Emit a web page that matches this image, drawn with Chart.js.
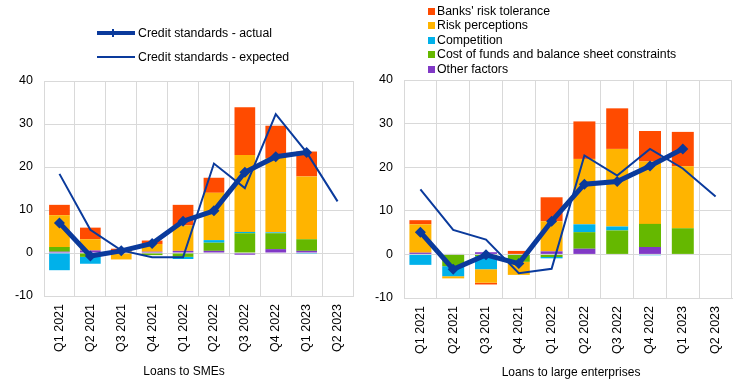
<!DOCTYPE html>
<html>
<head>
<meta charset="utf-8">
<script src="https://cdn.jsdelivr.net/npm/chart.js@4.4.1/dist/chart.umd.min.js"></script>
<style>
  html, body { margin:0; padding:0; background:#fff; }
  body { width:744px; height:384px; position:relative; overflow:hidden; font-family:"Liberation Sans", Arial, sans-serif; color:#000; }
  .box { position:absolute; top:0; width:372px; height:384px; }
  .lg { position:absolute; font-size:12.3px; line-height:14px; white-space:nowrap; }
  .sq { position:absolute; width:7px; height:7px; }
  .ln { position:absolute; background:#0a3a9c; }
  .ttl { position:absolute; font-size:12px; white-space:nowrap; transform:translateX(-50%); }
</style>
</head>
<body>
<div class="box" style="left:0"><canvas id="sme"></canvas></div>
<div class="box" style="left:372px"><canvas id="large"></canvas></div>

<!-- left legend -->
<div class="ln" style="left:97px;top:30.5px;width:38px;height:4.5px"></div>
<div class="ln" style="left:112px;top:29px;width:1.5px;height:7.5px"></div>
<div class="lg" style="left:138px;top:25.5px">Credit standards - actual</div>
<div class="ln" style="left:97px;top:56px;width:38px;height:2px"></div>
<div class="lg" style="left:138px;top:50px">Credit standards - expected</div>

<!-- right legend -->
<div id="rlegend"></div>

<div class="ttl" style="left:184px;top:364px">Loans to SMEs</div>
<div class="ttl" style="left:571px;top:365px">Loans to large enterprises</div>

<script>
const categories = ["Q1 2021","Q2 2021","Q3 2021","Q4 2021","Q1 2022","Q2 2022","Q3 2022","Q4 2022","Q1 2023","Q2 2023"];
const yTicks = [-10, 0, 10, 20, 30, 40];
const factorNames = ["Banks' risk tolerance","Risk perceptions","Competition","Cost of funds and balance sheet constraints","Other factors"];
const actualName = "Credit standards - actual";
const expectedName = "Credit standards - expected";

// Loans to SMEs
const smeTolerance   = [2.4, 2.7, 0.7, 0.8, 4.8, 3.5, 11.1, 7.5, 5.8, null];
const smeRiskPerc    = [7.4, 2.6, -1.5, 1.8, 5.9, 11.0, 17.9, 17.3, 14.6, null];
const smeCompetition = [-4.0, -1.6, 0.0, 0.0, -0.5, 0.6, 0.3, 0.2, -0.2, null];
const smeCost        = [1.1, -0.9, 0.1, -0.5, -0.9, 1.9, 4.6, 3.7, 2.7, null];
const smeOther       = [0.3, 0.6, 0.2, 0.3, 0.5, 0.5, -0.4, 0.9, 0.5, null];
const smeActual      = [7.0, -0.7, 0.5, 2.2, 7.4, 9.8, 18.8, 22.4, 23.4, null];
const smeExpected    = [18.4, 5.4, 0.6, -1.0, -1.0, 20.8, 15.1, 32.3, 23.4, 12.0];

// Loans to large enterprises
const lgTolerance   = [0.95, 0.0, -0.4, 0.8, 5.5, 8.6, 9.3, 7.0, 7.9, null];
const lgRiskPerc    = [6.5, -0.5, -3.1, -3.0, 6.9, 15.0, 17.8, 14.3, 14.2, null];
const lgCompetition = [-2.4, -2.3, -3.0, 0.0, -0.3, 1.8, 0.9, -0.2, 0.0, null];
const lgCost        = [0.0, -2.7, -0.4, -1.7, -0.6, 3.8, 5.5, 5.3, 6.0, null];
const lgOther       = [0.4, 0.1, 0.5, 0.0, 0.7, 1.3, 0.0, 1.7, 0.0, null];
const lgActual      = [5.1, -3.4, -0.1, -2.1, 7.6, 16.1, 16.7, 20.3, 24.2, null];
const lgExpected    = [14.9, 5.6, 3.4, -4.3, -3.3, 22.7, 18.1, 24.2, 19.7, 13.3];

const colors = { tolerance:"#FF4B00", risk:"#FFB400", comp:"#00B1EA", cost:"#65B800", other:"#8139C6", line:"#0a3a9c" };
const FONT = "'Liberation Sans', Arial, sans-serif";
const GRID = "#d9d9d9";

// right legend (HTML)
(function(){
  const host = document.getElementById('rlegend');
  const cols = [colors.tolerance, colors.risk, colors.comp, colors.cost, colors.other];
  const ys = [11, 25.5, 40.5, 54.8, 69.3];
  factorNames.forEach((n,i)=>{
    const s = document.createElement('div'); s.className='sq';
    s.style.left='428px'; s.style.top=(ys[i]-3.5)+'px'; s.style.background=cols[i];
    host.appendChild(s);
    const t = document.createElement('div'); t.className='lg';
    t.style.left='437px'; t.style.top=(ys[i]-7.5)+'px'; t.textContent=n;
    host.appendChild(t);
  });
})();

function bar(label, data, color){
  return { type:'bar', label, data, backgroundColor:color, borderWidth:0, order:2,
           barPercentage:0.67, categoryPercentage:1.0, stack:'factors' };
}

function makeChart(id, d, geo){
  return new Chart(document.getElementById(id), {
    data: {
      labels: categories,
      datasets: [
        { type:'line', label:actualName, data:d.actual, borderColor:colors.line, backgroundColor:colors.line,
          borderWidth:5, pointStyle:'rectRot', pointRadius:5.5, pointBorderWidth:0, order:0, stack:'actual', spanGaps:false },
        { type:'line', label:expectedName, data:d.expected, borderColor:colors.line, borderWidth:2,
          pointRadius:0, order:1, stack:'expected' },
        bar(factorNames[4], d.other, colors.other),
        bar(factorNames[3], d.cost, colors.cost),
        bar(factorNames[2], d.comp, colors.comp),
        bar(factorNames[1], d.risk, colors.risk),
        bar(factorNames[0], d.tol, colors.tolerance)
      ]
    },
    options: {
      responsive:true, maintainAspectRatio:false, animation:false,
      layout:{ padding:{ top:geo.top, right:geo.right, left:0, bottom:0 } },
      plugins:{ legend:{display:false}, tooltip:{enabled:false}, title:{display:false} },
      scales:{
        x:{ type:'category', stacked:true, offset:true,
            grid:{ color:GRID, offset:true, drawTicks:false, lineWidth:1 },
            border:{ color:GRID },
            ticks:{ minRotation:90, maxRotation:90, autoSkip:false, padding:8, color:'#000',
                    font:{ family:FONT, size:12.5 } },
            afterFit:(s)=>{ s.height = geo.xh; } },
        y:{ stacked:true, min:yTicks[0], max:yTicks[yTicks.length-1],
            afterBuildTicks:(s)=>{ s.ticks = yTicks.map(v=>({value:v})); },
            grid:{ color:GRID, drawTicks:false, lineWidth:1 },
            border:{ color:GRID },
            ticks:{ padding:11, color:'#000', font:{ family:FONT, size:12.5 } },
            afterFit:(s)=>{ s.width = geo.yw; } }
      }
    }
  });
}

makeChart('sme', { actual:smeActual, expected:smeExpected, other:smeOther, cost:smeCost, comp:smeCompetition, risk:smeRiskPerc, tol:smeTolerance },
          { top:81, right:19, xh:88, yw:44 });
makeChart('large', { actual:lgActual, expected:lgExpected, other:lgOther, cost:lgCost, comp:lgCompetition, risk:lgRiskPerc, tol:lgTolerance },
          { top:80, right:12, xh:86, yw:32 });
</script>
</body>
</html>
